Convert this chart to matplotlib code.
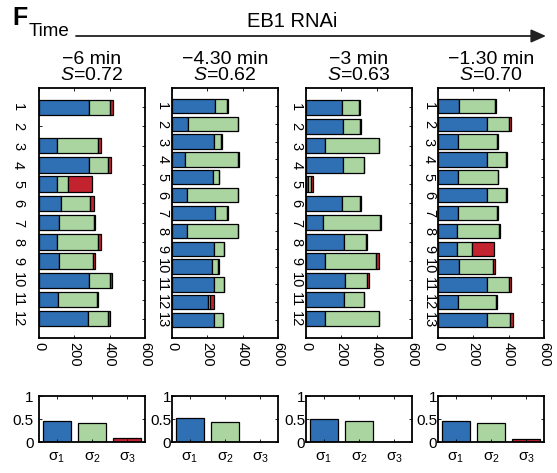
import matplotlib
matplotlib.use("Agg")
import matplotlib.pyplot as plt
import numpy as np

plt.rcParams['font.family'] = ['Liberation Sans', 'DejaVu Sans']
plt.rcParams['mathtext.fontset'] = 'custom'
plt.rcParams['mathtext.rm'] = 'Liberation Sans'
plt.rcParams['mathtext.it'] = 'Liberation Sans:italic'

# data (widths of the blue / green / red segments)
times = ["\u22126 min", "\u22124.30 min", "\u22123 min", "\u22121.30 min"]
s_values = [0.72, 0.62, 0.63, 0.70]

blue1 = [282, 0, 101, 282, 101, 122, 112, 101, 112, 282, 105, 280]
green1 = [120, 0, 234, 108, 63, 166, 197, 234, 193, 118, 221, 110]
red1 = [15, 0, 17, 16, 135, 22, 9, 17, 11, 15, 9, 14]

blue2 = [246, 90, 238, 74, 230, 86, 246, 86, 240, 227, 240, 204, 238]
green2 = [64, 281, 42, 301, 35, 285, 68, 285, 53, 32, 53, 11, 50]
red2 = [6, 4, 3, 3, 3, 3, 3, 3, 4, 8, 4, 23, 3]

blue3 = [204, 208, 105, 211, 10, 204, 99, 213, 110, 219, 213, 105]
green3 = [97, 99, 306, 115, 17, 99, 322, 124, 288, 126, 113, 306]
red3 = [6, 5, 4, 4, 13, 6, 4, 6, 13, 9, 4, 4]

blue4 = [118, 280, 114, 276, 114, 276, 114, 110, 109, 120, 280, 114, 280]
green4 = [206, 120, 221, 109, 223, 109, 219, 233, 85, 194, 124, 216, 128]
red4 = [4, 13, 4, 5, 4, 4, 4, 9, 124, 8, 11, 4, 15]

sigma1 = [0.45, 0.52, 0.50, 0.46]
sigma2 = [0.42, 0.43, 0.45, 0.42]
sigma3 = [0.095, 0.01, 0.005, 0.07]
sigma_labels = ["\u03c3$_1$", "\u03c3$_2$", "\u03c3$_3$"]

panels = [(blue1, green1, red1), (blue2, green2, red2),
          (blue3, green3, red3), (blue4, green4, red4)]

c_blue = '#2f70b5'
c_green = '#abd5a0'
c_red = '#c3222f'

W, H = 557, 473
fig = plt.figure(figsize=(W / 100, H / 100), dpi=100)

lefts = [39, 172, 306, 438]
ylab_pad = [10, 2, 2, 1.5]
sig_pad = [4, 0.5, 0.5, 0.5]

def px(x0, y0, w, h):
    return [x0 / W, 1 - (y0 + h) / H, w / W, h / H]

for i, (b, g, r) in enumerate(panels):
    ax = fig.add_axes(px(lefts[i], 88, 106, 250))
    b = np.array(b); g = np.array(g); r = np.array(r)
    n = len(b)
    rows = np.arange(1, n + 1)
    m = (b + g + r) > 0
    kw = dict(height=0.8, edgecolor='black', linewidth=0.9, zorder=2)
    ax.barh(rows[m], b[m], color=c_blue, **kw)
    ax.barh(rows[m], g[m], left=b[m], color=c_green, **kw)
    ax.barh(rows[m], r[m], left=(b + g)[m], color=c_red, **kw)
    ax.set_xlim(0, 600)
    ax.set_ylim(n + 1, 0)
    ax.set_xticks([0, 200, 400, 600])
    ax.set_yticks(rows)
    ax.set_yticklabels([str(k) for k in rows], rotation=-90, va='center')
    ax.set_xticklabels(['0', '200', '400', '600'], rotation=-90, ha='center', va='top')
    ax.tick_params(direction='in', length=2.5, width=0.6, top=True, right=True,
                   labelsize=10.5)
    ax.tick_params(axis='y', pad=ylab_pad[i])
    ax.tick_params(axis='x', pad=3)
    for sp in ax.spines.values():
        sp.set_linewidth(1.3)

    xc = (lefts[i] + 53) / W
    fig.text(xc, 1 - 59 / H, times[i], ha='center', va='center', fontsize=14)
    fig.text(xc, 1 - 75 / H, "$S$=%.2f" % s_values[i], ha='center', va='center',
             fontsize=14)

    # sigma bar chart below
    axs = fig.add_axes(px(lefts[i], 396, 106, 46))
    axs.bar([1, 2, 3], [sigma1[i], sigma2[i], sigma3[i]], width=0.8,
            color=[c_blue, c_green, c_red], edgecolor='black', linewidth=0.9)
    axs.set_xlim(0.5, 3.5)
    axs.set_ylim(0, 1)
    axs.set_yticks([0, 0.5, 1])
    axs.set_yticklabels(['0', '0.5', '1'])
    axs.set_xticks([1, 2, 3])
    axs.set_xticklabels(sigma_labels, fontsize=17)
    axs.tick_params(direction='in', length=2.5, width=0.6, top=True, right=True,
                    labelsize=11)
    axs.tick_params(axis='y', pad=sig_pad[i])
    axs.tick_params(axis='x', pad=6)
    for sp in axs.spines.values():
        sp.set_linewidth(1.3)

# header
fig.text(12 / W, 1 - 18 / H, "F", fontsize=18, fontweight='bold', va='center', ha='left')
fig.text(29 / W, 1 - 31 / H, "Time", fontsize=13.5, va='center', ha='left')
fig.text(292 / W, 1 - 21 / H, "EB1 RNAi", fontsize=14.5, va='center', ha='center')
fig.add_artist(matplotlib.patches.FancyArrowPatch(
    (76 / W, 1 - 36 / H), (546 / W, 1 - 36 / H), transform=fig.transFigure,
    arrowstyle='-|>,head_length=9,head_width=4', color='#222222', linewidth=1.3,
    shrinkA=0, shrinkB=0))

fig.savefig("out.png", dpi=100)
